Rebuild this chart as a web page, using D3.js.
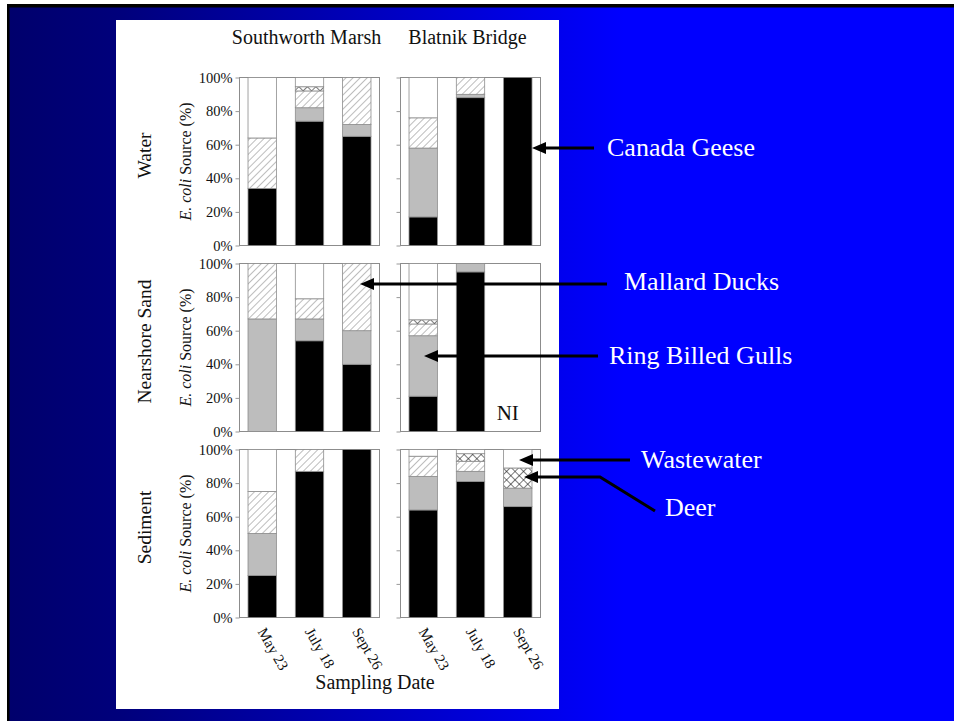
<!DOCTYPE html>
<html><head><meta charset="utf-8">
<script src="https://cdn.jsdelivr.net/npm/d3@7"></script>
<style>body{margin:0;background:#fff}svg{display:block}</style>
</head><body><svg id="c" width="954" height="721"></svg>
<script>
// ---------- DATA ----------
const dates = ["May 23", "July 18", "Sept 26"];
const sites = ["Southworth Marsh", "Blatnik Bridge"];
const media = ["Water", "Nearshore Sand", "Sediment"];
const sources = ["Canada Geese", "Ring Billed Gulls", "Mallard Ducks", "Deer", "Wastewater"];
const yTicks = [0, 20, 40, 60, 80, 100];
// percentages indexed [medium][site][date]; null = NI (not isolated)
const geese      = [[[34, 74, 65], [17, 88, 100]], [[0, 54, 40], [21, 95, null]], [[25, 87, 100], [64, 81, 66]]];
const gulls      = [[[0, 8, 7],    [41, 2, 0]],    [[67, 13, 20], [36, 5, null]], [[25, 0, 0],    [20, 6, 11]]];
const ducks      = [[[30, 10, 28], [18, 10, 0]],   [[33, 12, 40], [7, 0, null]],  [[25, 13, 0],   [12, 6, 0]]];
const deer       = [[[0, 2.5, 0],  [0, 0, 0]],     [[0, 0, 0],    [2.5, 0, null]],[[0, 0, 0],     [0, 4.5, 12]]];
const wastewater = [[[36, 5.5, 0], [24, 0, 0]],    [[0, 21, 0],   [33.5, 0, null]],[[25, 0, 0],   [4, 2.5, 11]]];
const annotations = ["Canada Geese", "Mallard Ducks", "Ring Billed Gulls", "Wastewater", "Deer"];

// ---------- LAYOUT ----------
const FONT = "'Liberation Serif','Times New Roman',serif";
const svg = d3.select("#c");
const defs = svg.append("defs");

const grad = defs.append("linearGradient").attr("id", "bg")
  .attr("x1", 0).attr("x2", 1).attr("y1", 0).attr("y2", 0);
[[0, "#00006c"], [0.12, "#00007c"], [0.58, "#0000ee"], [0.65, "#0000ff"], [1, "#0000ff"]]
  .forEach(([o, c]) => grad.append("stop").attr("offset", o).attr("stop-color", c));

const hatch = defs.append("pattern").attr("id", "hatch").attr("patternUnits", "userSpaceOnUse")
  .attr("width", 5).attr("height", 5).attr("patternTransform", "rotate(45)");
hatch.append("rect").attr("width", 5).attr("height", 5).attr("fill", "#fff");
hatch.append("line").attr("x1", 0).attr("y1", 0).attr("x2", 0).attr("y2", 5)
  .attr("stroke", "#9a9a9a").attr("stroke-width", 1.3);

const cross = defs.append("pattern").attr("id", "cross").attr("patternUnits", "userSpaceOnUse")
  .attr("width", 6).attr("height", 6).attr("patternTransform", "rotate(45)");
cross.append("rect").attr("width", 6).attr("height", 6).attr("fill", "#fff");
cross.append("line").attr("x1", 0).attr("y1", 0).attr("x2", 0).attr("y2", 6).attr("stroke", "#222").attr("stroke-width", 1.2);
cross.append("line").attr("x1", 0).attr("y1", 0).attr("x2", 6).attr("y2", 0).attr("stroke", "#222").attr("stroke-width", 1.2);

// background
svg.append("rect").attr("width", 954).attr("height", 721).attr("fill", "#fff");
svg.append("rect").attr("x", 7).attr("y", 4).attr("width", 947).attr("height", 717).attr("fill", "#000");
svg.append("rect").attr("x", 9.5).attr("y", 7.5).attr("width", 944.5).attr("height", 713.5).attr("fill", "url(#bg)");
svg.append("rect").attr("x", 116).attr("y", 20).attr("width", 443).attr("height", 689).attr("fill", "#fff");

const panelX = [239.5, 400.5], panelW = 140;
const rowY = [77.5, 263.5, 449.5], panelH = 168;
const x = d3.scaleBand().domain(dates).range([0, panelW]).paddingInner(0.4).paddingOuter(0.18);
const y = d3.scaleLinear().domain([0, 100]).range([panelH, 0]);
const seriesArr = [geese, gulls, ducks, deer, wastewater];
const fills = ["#000", "#bdbdbd", "url(#hatch)", "url(#cross)", "#fff"];
const OUT = "#8c8c8c";

// column titles
sites.forEach((s, si) => {
  svg.append("text").attr("x", panelX[si] + panelW / 2 - 3).attr("y", 44)
    .attr("text-anchor", "middle").attr("font-family", FONT).attr("font-size", 20)
    .attr("fill", "#111").text(s);
});

media.forEach((m, mi) => {
  const cy = rowY[mi] + panelH / 2;
  // row label
  svg.append("text").attr("transform", `translate(151,${cy - 6}) rotate(-90)`)
    .attr("text-anchor", "middle").attr("font-family", FONT).attr("font-size", 19.5)
    .attr("fill", "#111").text(m);
  // y axis label
  const yl = svg.append("text").attr("transform", `translate(191,${cy}) rotate(-90)`)
    .attr("text-anchor", "middle").attr("font-family", FONT).attr("font-size", 16).attr("fill", "#111");
  yl.append("tspan").attr("font-style", "italic").text("E. coli");
  yl.append("tspan").text(" Source (%)");

  sites.forEach((s, si) => {
    const p = svg.append("g").attr("transform", `translate(${panelX[si]},${rowY[mi]})`);
    p.append("rect").attr("width", panelW).attr("height", panelH)
      .attr("fill", "#fff").attr("stroke", OUT).attr("stroke-width", 1);

    dates.forEach((d, di) => {
      if (geese[mi][si][di] === null) {
        p.append("text").attr("x", x(d) + x.bandwidth() / 2 - 10).attr("y", 156)
          .attr("text-anchor", "middle").attr("font-family", FONT).attr("font-size", 21)
          .attr("fill", "#111").text("NI");
        return;
      }
      let cum = 0;
      sources.forEach((src, k) => {
        const v = seriesArr[k][mi][si][di];
        if (!v) return;
        p.append("rect").attr("x", x(d)).attr("width", x.bandwidth())
          .attr("y", y(cum + v)).attr("height", y(cum) - y(cum + v))
          .attr("fill", fills[k]).attr("stroke", OUT).attr("stroke-width", 0.8);
        cum += v;
      });
    });

    const ax = p.append("g").call(d3.axisLeft(y).tickValues(yTicks).tickSize(4).tickPadding(3)
      .tickFormat(si === 0 ? (v => v + "%") : () => ""));
    ax.select(".domain").remove();
    ax.selectAll("line").attr("stroke", "#999");
    ax.selectAll("text").attr("font-family", FONT).attr("font-size", 14.5).attr("fill", "#111");

    if (mi === media.length - 1) {
      dates.forEach(d => {
        p.append("text")
          .attr("transform", `translate(${x(d) + x.bandwidth() / 2 - 5},${panelH + 14}) rotate(60)`)
          .attr("font-family", FONT).attr("font-size", 15).attr("fill", "#111").text(d);
      });
    }
  });
});

svg.append("text").attr("x", 375).attr("y", 689).attr("text-anchor", "middle")
  .attr("font-family", FONT).attr("font-size", 20).attr("fill", "#111").text("Sampling Date");

// annotations (arrows + labels)
const annoText = [[607, 156], [624, 290], [609, 364], [641, 468], [665, 516]];
const annoPath = [
  [[594, 148], [532, 148]],
  [[607, 284], [360, 284]],
  [[598, 356], [424, 356]],
  [[630, 460], [519, 460]],
  [[655, 511], [600, 477], [524, 477]]
];
annotations.forEach((a, i) => {
  const pts = annoPath[i];
  const tip = pts[pts.length - 1];
  const shaft = pts.slice(0, -1).concat([[tip[0] + 10, tip[1]]]);
  svg.append("path").attr("d", d3.line()(shaft)).attr("fill", "none")
    .attr("stroke", "#000").attr("stroke-width", 3);
  svg.append("path").attr("d", `M${tip[0]},${tip[1]} L${tip[0] + 14},${tip[1] - 6} L${tip[0] + 14},${tip[1] + 6} Z`)
    .attr("fill", "#000");
  svg.append("text").attr("x", annoText[i][0]).attr("y", annoText[i][1])
    .attr("font-family", FONT).attr("font-size", 26).attr("fill", "#fff").text(a);
});
</script></body></html>
